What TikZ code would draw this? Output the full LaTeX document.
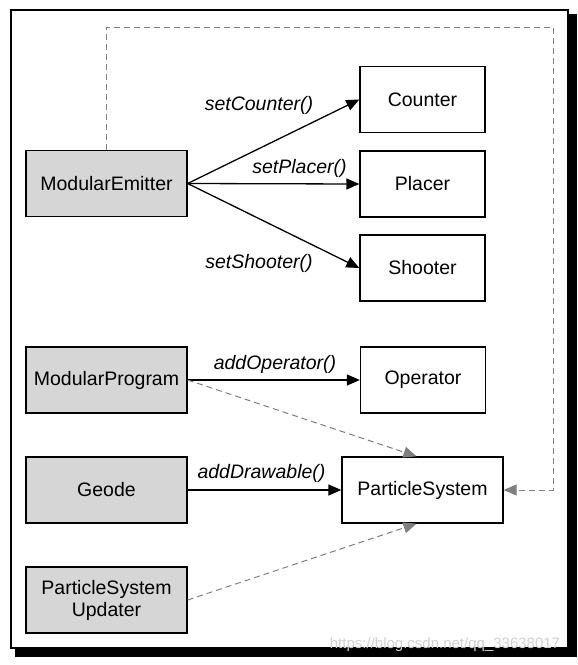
\documentclass[tikz,border=0pt]{standalone}
\usepackage{fontspec}
\setmainfont{Liberation Sans}
\usetikzlibrary{arrows.meta}
\tikzset{
  cls/.style={draw=black,line width=1.3pt,fill=gray!32,minimum width=161pt,minimum height=66pt,inner sep=0pt,font=\fontsize{19.5}{22}\selectfont,align=center},
  obj/.style={cls,fill=white,minimum width=125pt},
  lbl/.style={inner sep=0pt,font=\fontsize{19.5}{22}\selectfont\itshape},
  call/.style={line width=1.3pt,-{Triangle[length=13pt,width=11pt]}},
  dep/.style={draw=gray,line width=1pt,dash pattern=on 6pt off 4pt,-{Triangle[length=13pt,width=11pt]}}
}
\begin{document}
\begin{tikzpicture}[x=1pt,y=-1pt]
\useasboundingbox (0,0) rectangle (578,665);
\fill[black] (15,14) rectangle (577,657);
\draw[fill=white,line width=1.5pt] (11,10) rectangle (568,648);
% classes on the left
\node[cls] (emitter) at (106.5,183.5) {ModularEmitter};
\node[cls] (program) at (106.5,380) {ModularProgram};
\node[cls] (geode) at (106.5,490) {Geode};
\node[cls] (updater) at (106.5,600) {ParticleSystem\\Updater};
% objects on the right
\node[obj] (counter) at (422.5,99.5) {Counter};
\node[obj] (placer) at (422.5,184) {Placer};
\node[obj] (shooter) at (422.5,268) {Shooter};
\node[obj] (operator) at (423,380) {Operator};
\node[obj,minimum width=161pt] (psys) at (422.5,490) {ParticleSystem};
\coordinate (loop) at (553,27);
% calls
\draw[call] (emitter.east) to (counter.west);
\draw[call] (emitter.east) to (placer.west);
\draw[call] (emitter.east) to (shooter.west);
\draw[call] (program.east) to (operator.west);
\draw[call] (geode.east) to (psys.west);
\node[lbl] (lcounter) at (259,105) {setCounter()};
\node[lbl] (lplacer) at (299.5,168) {setPlacer()};
\node[lbl] (lshooter) at (259,263) {setShooter()};
\node[lbl] (loperator) at (275,364) {addOperator()};
\node[lbl] (ldrawable) at (261.5,473) {addDrawable()};
% dependencies
\draw[dep] (emitter.north) |- (loop) |- (psys.east);
\draw[dep] (program.east) to ([xshift=-6pt]psys.north);
\draw[dep] (updater.east) to ([xshift=-6pt]psys.south);
\node[inner sep=0pt,text=gray!35,font=\fontsize{15}{15}\selectfont] (mark) at (445,645) {https://blog.csdn.net/qq\_33638017};
\end{tikzpicture}
\end{document}
